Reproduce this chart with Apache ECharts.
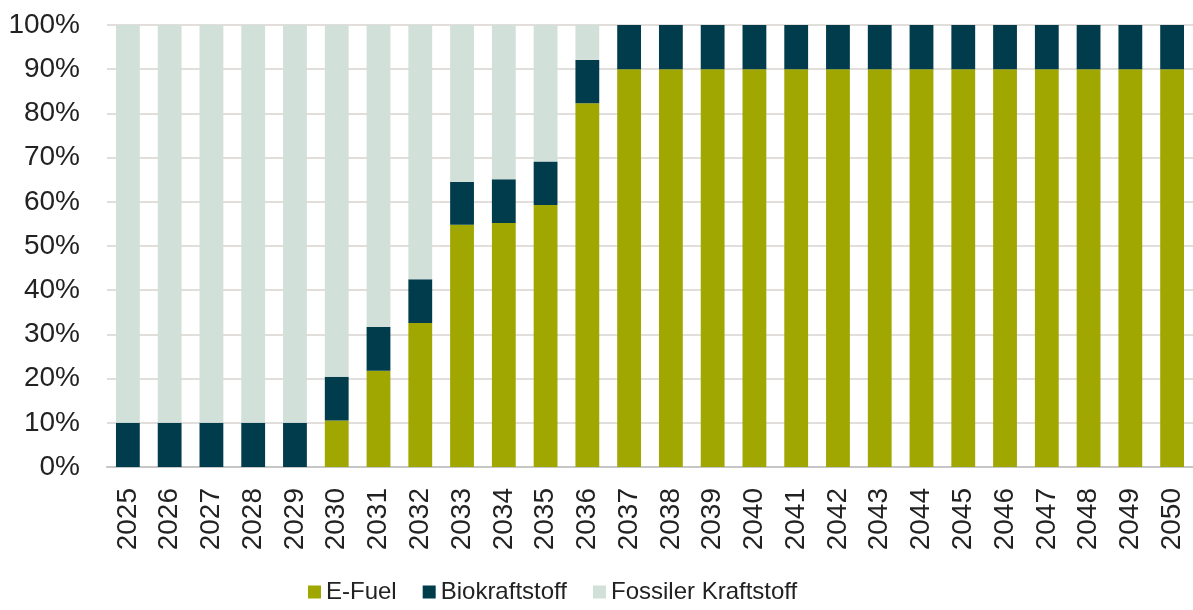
<!DOCTYPE html>
<html>
<head>
<meta charset="utf-8">
<script src="https://cdn.jsdelivr.net/npm/echarts@6/dist/echarts.min.js"></script>
<style>
  html, body { margin: 0; padding: 0; background: #fff; }
  #chart { width: 1193px; height: 610px; }
</style>
</head>
<body>
<div id="chart"></div>
<script>
// Jahre
const years = ['2025','2026','2027','2028','2029','2030','2031','2032','2033','2034','2035','2036','2037',
  '2038','2039','2040','2041','2042','2043','2044','2045','2046','2047','2048','2049','2050'];

// Anteile in %
const eFuel = [0, 0, 0, 0, 0, 10.5, 21.8, 32.6, 54.8, 55.2, 59.3, 82.3, 90,
  90, 90, 90, 90, 90, 90, 90, 90, 90, 90, 90, 90, 90];
const bio = [10, 10, 10, 10, 10, 9.9, 9.9, 9.9, 9.7, 9.9, 9.8, 9.8, 10,
  10, 10, 10, 10, 10, 10, 10, 10, 10, 10, 10, 10, 10];
const fossil = [90, 90, 90, 90, 90, 79.6, 68.3, 57.5, 35.5, 34.9, 30.9, 7.9, 0,
  0, 0, 0, 0, 0, 0, 0, 0, 0, 0, 0, 0, 0];

const yTicks = { min: 0, max: 100, step: 10 };

const font = '"Liberation Sans", Arial, sans-serif';
const txt = '#222222';

const chart = echarts.init(document.getElementById('chart'), null, { renderer: 'canvas' });

const mkSeries = (name, data, color) => ({
  name: name,
  type: 'bar',
  stack: 'total',
  data: data,
  barCategoryGap: '43%',
  itemStyle: { color: color },
  emphasis: { disabled: true }
});

chart.setOption({
  animation: false,
  textStyle: { fontFamily: font },
  grid: { left: 107, right: -2, top: 25, bottom: 143, containLabel: false },
  legend: {
    left: 303,
    top: 575,
    itemWidth: 13,
    itemHeight: 13,
    itemGap: 26,
    icon: 'rect',
    textStyle: { fontSize: 24, color: txt, fontFamily: font },
    data: ['E-Fuel', 'Biokraftstoff', 'Fossiler Kraftstoff']
  },
  xAxis: {
    type: 'category',
    data: years,
    axisTick: { show: false },
    axisLine: { lineStyle: { color: '#c6c6c6', width: 2 } },
    axisLabel: { rotate: 90, fontSize: 28, color: txt, margin: 21, fontFamily: font }
  },
  yAxis: {
    type: 'value',
    min: yTicks.min,
    max: yTicks.max,
    interval: yTicks.step,
    axisLine: { show: false },
    axisTick: { show: false },
    splitLine: { lineStyle: { color: '#e2dedc', width: 2 } },
    axisLabel: { formatter: '{value}%', fontSize: 28, color: txt, margin: 27, fontFamily: font }
  },
  series: [
    mkSeries('E-Fuel', eFuel, '#9fa700'),
    mkSeries('Biokraftstoff', bio, '#003c4c'),
    mkSeries('Fossiler Kraftstoff', fossil, '#d1e0d8')
  ]
});
</script>
</body>
</html>
